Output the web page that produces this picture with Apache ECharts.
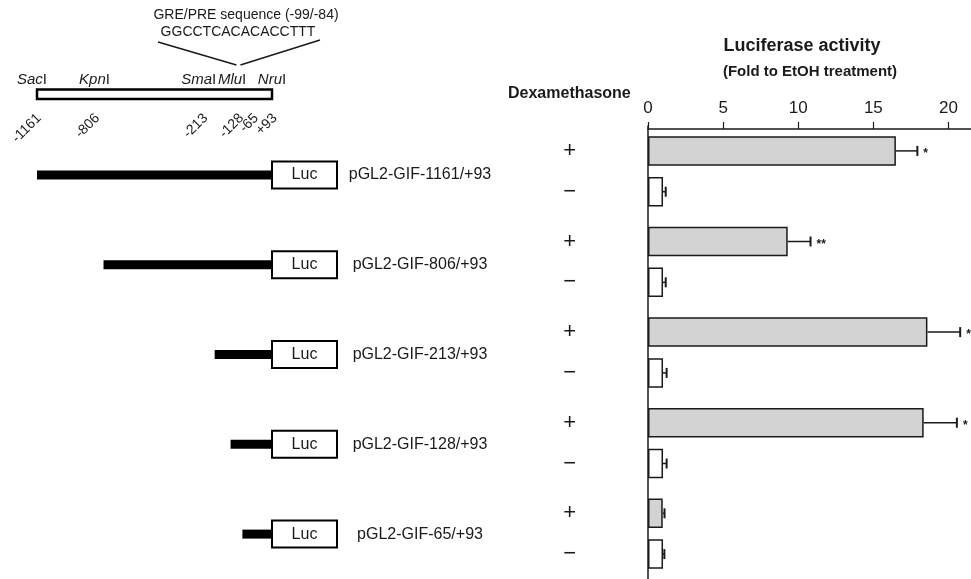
<!DOCTYPE html>
<html>
<head>
<meta charset="utf-8">
<script src="https://cdn.jsdelivr.net/npm/echarts@6/dist/echarts.min.js"></script>
<style>html,body{margin:0;padding:0;background:#fff}#c{width:971px;height:579px}</style>
</head>
<body>
<div id="c"></div>
<script>
// ---------- data ----------
var constructs = ['pGL2-GIF-1161/+93','pGL2-GIF-806/+93','pGL2-GIF-213/+93','pGL2-GIF-128/+93','pGL2-GIF-65/+93'];
var constructStart = [-1161, -806, -213, -128, -65];
var constructEnd = 93;
var dexPlus = [16.5, 9.3, 18.6, 18.35, 0.98];
var dexPlusSD = [1.43, 1.52, 2.18, 2.21, 0.12];
var dexMinus = [1.0, 1.0, 1.0, 1.0, 1.0];
var dexMinusSD = [0.18, 0.18, 0.24, 0.24, 0.09];
var stars = ['*', '**', '*', '*', ''];
var xTicks = [0, 5, 10, 15, 20];
var siteNames = ['Sac', 'Kpn', 'Sma', 'Mlu', 'Nru'];
var sitePos = [-1161, -806, -213, -128, 93];
var markLabels = ['-1161', '-806', '-213', '-128', '-65', '+93'];
var markPos = [-1161, -806, -213, -128, -65, 93];
var greLabel = 'GRE/PRE sequence (-99/-84)';
var greSeq = 'GGCCTCACACACCTTT';
var grePos = [-99, -84];

// ---------- layout / style (label nudges in px, not data) ----------
var FONT = "'Liberation Sans', Arial, Helvetica, sans-serif";
var INK = '#1a1a1a';
var BAR_W = 29.5, BAR_GAP = 11.3;
var siteLabelNudge = [-5, -9, -16, 1.5, 0];
var markLabelNudge = [2, -6, -9, 11, 14, 3];

var chart = echarts.init(document.getElementById('c'), null, {renderer: 'canvas'});

var errData = [];
dexPlus.forEach(function (v, i) { errData.push([v + dexPlusSD[i], i, -1, v, stars[i]]); });
dexMinus.forEach(function (v, i) { errData.push([v + dexMinusSD[i], i, 1, v, '']); });

function renderErr(params, api) {
  var hi = api.value(0), cat = api.value(1), sgn = api.value(2), v = api.value(3);
  var star = errData[params.dataIndex][4];
  var c = api.coord([v, cat]);
  var y = c[1] + sgn * (BAR_W + BAR_GAP) / 2;
  var x1 = c[0];
  var x2 = api.coord([hi, cat])[0];
  var ch = [
    {type: 'line', shape: {x1: x1, y1: y, x2: x2, y2: y}, style: {stroke: INK, lineWidth: 1.5}},
    {type: 'line', shape: {x1: x2, y1: y - 5, x2: x2, y2: y + 5}, style: {stroke: INK, lineWidth: 2}}
  ];
  if (star) {
    ch.push({type: 'text', x: x2 + 6, y: y + 3, style: {text: star, font: 'bold 12px ' + FONT, fill: INK, align: 'left', verticalAlign: 'middle'}});
  }
  return {type: 'group', children: ch};
}

function renderConstruct(params, api) {
  var s = api.coord([api.value(0), api.value(1)]);
  var e = api.coord([constructEnd, api.value(1)]);
  var y = s[1];
  return {type: 'group', children: [
    {type: 'rect', shape: {x: s[0], y: y - 4.5, width: e[0] - s[0], height: 9}, style: {fill: '#000'}},
    {type: 'rect', shape: {x: e[0], y: y - 13.5, width: 65, height: 27}, style: {fill: '#fff', stroke: '#000', lineWidth: 2}},
    {type: 'text', x: e[0] + 32.5, y: y, style: {text: 'Luc', font: '16px ' + FONT, fill: INK, align: 'center', verticalAlign: 'middle'}},
    {type: 'text', x: e[0] + 148, y: y, style: {text: constructs[params.dataIndex], font: '16px ' + FONT, fill: INK, align: 'center', verticalAlign: 'middle'}}
  ]};
}

function renderMap(params, api) {
  var X = function (p) { return api.coord([p, 0])[0]; };
  var ch = [];
  ch.push({type: 'rect', shape: {x: X(sitePos[0]), y: 89.5, width: X(constructEnd) - X(sitePos[0]), height: 9.5},
           style: {fill: '#fff', stroke: '#000', lineWidth: 2.5}});
  siteNames.forEach(function (n, i) {
    ch.push({type: 'text', x: X(sitePos[i]) + siteLabelNudge[i], y: 80, style: {
      text: '{i|' + n + '}{n|I}', align: 'center', verticalAlign: 'middle',
      rich: {i: {font: 'italic 15px ' + FONT, fill: INK}, n: {font: '15px ' + FONT, fill: INK}}}});
  });
  markLabels.forEach(function (t, i) {
    ch.push({type: 'text', x: X(markPos[i]) + markLabelNudge[i], y: 116, rotation: Math.PI / 4,
             style: {text: t, font: '14px ' + FONT, fill: INK, align: 'right', verticalAlign: 'middle'}});
  });
  var gx = X((grePos[0] + grePos[1]) / 2);
  ch.push({type: 'line', shape: {x1: 158, y1: 42, x2: gx - 1, y2: 65}, style: {stroke: INK, lineWidth: 1.5}});
  ch.push({type: 'line', shape: {x1: 320, y1: 40, x2: gx + 3, y2: 65}, style: {stroke: INK, lineWidth: 1.5}});
  ch.push({type: 'text', x: 246, y: 15, style: {text: greLabel, font: '14px ' + FONT, fill: INK, align: 'center', verticalAlign: 'middle'}});
  ch.push({type: 'text', x: 238, y: 32, style: {text: greSeq, font: '14px ' + FONT, fill: INK, align: 'center', verticalAlign: 'middle'}});
  return {type: 'group', children: ch};
}

var option = {
  animation: false,
  backgroundColor: '#fff',
  textStyle: {fontFamily: FONT},
  title: [
    {text: 'Luciferase activity', left: 797, top: 32, textAlign: 'center',
     textStyle: {fontSize: 18, fontWeight: 'bold', color: INK, fontFamily: FONT}},
    {text: '(Fold to EtOH treatment)', left: 805, top: 59, textAlign: 'center',
     textStyle: {fontSize: 15, fontWeight: 'bold', color: INK, fontFamily: FONT}},
    {text: 'Dexamethasone', left: 503, top: 81,
     textStyle: {fontSize: 16, fontWeight: 'bold', color: INK, fontFamily: FONT}}
  ],
  grid: [
    {left: 648, right: 0, top: 126, height: 454},
    {left: 37, width: 235, top: 130, height: 452.5}
  ],
  xAxis: [
    {type: 'value', gridIndex: 0, position: 'top', offset: -3, min: 0, max: 21.5, interval: 5,
     axisLine: {show: true, lineStyle: {color: INK, width: 1.5}},
     axisTick: {show: true, length: 7, customValues: xTicks, lineStyle: {color: INK, width: 1.2}},
     axisLabel: {fontSize: 17, color: INK, margin: 12, fontFamily: FONT, customValues: xTicks},
     splitLine: {show: false}},
    {type: 'value', gridIndex: 1, min: constructStart[0], max: constructEnd, show: false}
  ],
  yAxis: [
    {type: 'category', gridIndex: 0, inverse: true, data: constructs,
     axisLine: {show: true, lineStyle: {color: INK, width: 1.5}},
     axisTick: {show: false}, axisLabel: {show: false}},
    {type: 'category', gridIndex: 1, inverse: true, data: constructs, show: false}
  ],
  series: [
    {name: '+', type: 'bar', xAxisIndex: 0, yAxisIndex: 0, data: dexPlus, barWidth: BAR_W, barGap: (BAR_GAP / BAR_W * 100).toFixed(1) + '%',
     itemStyle: {color: '#d3d3d3', borderColor: INK, borderWidth: 1.5},
     label: {show: true, position: 'left', distance: 72, formatter: '+', fontSize: 22, color: INK, fontFamily: FONT}},
    {name: '\u2212', type: 'bar', xAxisIndex: 0, yAxisIndex: 0, data: dexMinus, barWidth: BAR_W,
     itemStyle: {color: '#fff', borderColor: INK, borderWidth: 1.5},
     label: {show: true, position: 'left', distance: 72, formatter: '\u2212', fontSize: 22, color: INK, fontFamily: FONT}},
    {type: 'custom', xAxisIndex: 0, yAxisIndex: 0, renderItem: renderErr, data: errData, z: 5},
    {type: 'custom', xAxisIndex: 1, yAxisIndex: 1, renderItem: renderConstruct,
     data: constructStart.map(function (s, i) { return [s, i]; })},
    {type: 'custom', xAxisIndex: 1, yAxisIndex: 1, renderItem: renderMap, data: [[0, 0]], clip: false}
  ]
};
chart.setOption(option);
</script>
</body>
</html>
